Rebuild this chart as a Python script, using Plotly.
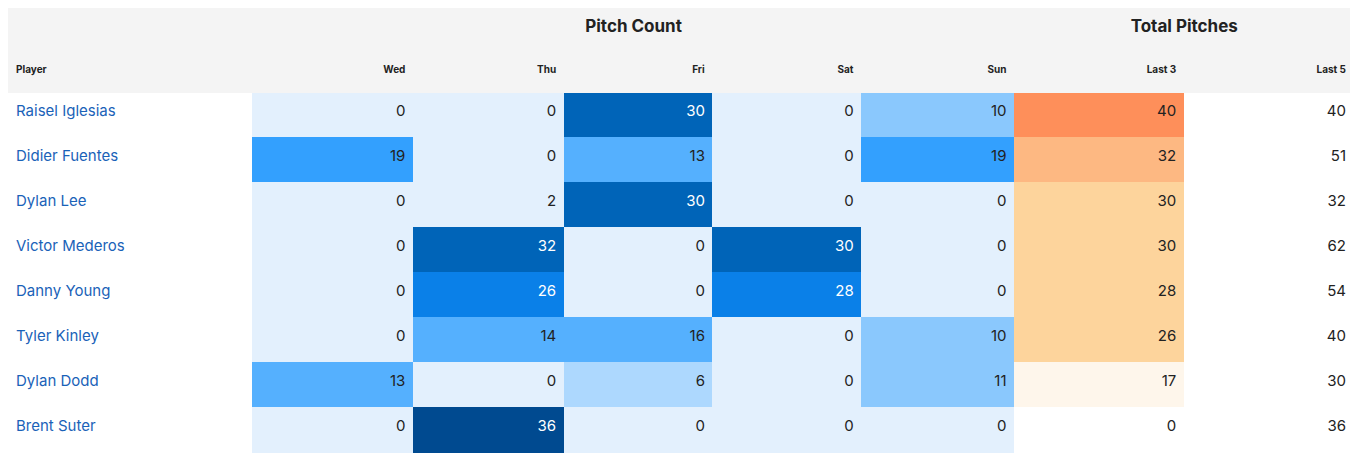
import plotly.graph_objects as go

players = ["Raisel Iglesias", "Didier Fuentes", "Dylan Lee", "Victor Mederos",
           "Danny Young", "Tyler Kinley", "Dylan Dodd", "Brent Suter"]
days = ["Wed", "Thu", "Fri", "Sat", "Sun"]
wed = [0, 19, 0, 0, 0, 0, 13, 0]
thu = [0, 0, 2, 32, 26, 14, 0, 36]
fri = [30, 13, 30, 0, 0, 16, 6, 0]
sat = [0, 0, 0, 30, 28, 0, 0, 0]
sun = [10, 19, 0, 0, 0, 10, 11, 0]
last3 = [40, 32, 30, 30, 28, 26, 17, 0]
last5 = [40, 51, 32, 62, 54, 40, 30, 36]


def blue(v):
    if v >= 36: return "#004a90"
    if v >= 30: return "#0064b8"
    if v >= 26: return "#0a80e8"
    if v >= 19: return "#33a0fe"
    if v >= 13: return "#55b0fe"
    if v >= 10: return "#8ac8fd"
    if v >= 6: return "#add8fe"
    return "#e3f0fd"


def orange(v):
    if v >= 40: return "#fe8f5a"
    if v >= 32: return "#fdb882"
    if v >= 26: return "#fdd49c"
    if v >= 17: return "#fef6eb"
    return "#ffffff"


def txt(v):
    return "white" if v >= 26 else "#222222"


def low(s, size=15):
    # push text down inside the cell: tiny first line, then the real text
    return f"&nbsp;<br><span style='font-size:{size}px'>{s}</span>"


day_cols = [wed, thu, fri, sat, sun]
fills = [["white"] * 8] + [[blue(v) for v in c] for c in day_cols] + \
        [[orange(v) for v in last3], ["white"] * 8]
fcolors = [["#1a62b8"] * 8] + [[txt(v) for v in c] for c in day_cols] + \
          [["#222222"] * 8, ["#222222"] * 8]
values = [[low(p) for p in players]] + [[low(v) for v in c] for c in day_cols + [last3, last5]]
widths = [245, 161, 151, 149, 149, 153, 170, 170]

fig = go.Figure()
fig.add_trace(go.Table(
    domain=dict(x=[0, 1], y=[0.897, 1]),
    columnwidth=[245, 763, 340],
    header=dict(values=["", low("<b>Pitch Count</b>", 17), low("<b>Total Pitches</b>", 17)],
                fill_color="#f4f4f4", line_color="#f4f4f4", height=45,
                align="center", font=dict(family="Inter", size=4, color="#222222")),
    cells=dict(values=[[], [], []], height=1)
))
fig.add_trace(go.Table(
    domain=dict(x=[0, 1], y=[0, 0.897]),
    columnwidth=widths,
    header=dict(values=[f"<b>{h}</b>" for h in ["Player"] + days + ["Last 3", "Last 5"]],
                fill_color="#f4f4f4", line_color="#f4f4f4", height=38,
                align=["left"] + ["right"] * 7,
                font=dict(family="Inter", size=10, color="#222222")),
    cells=dict(values=values, fill_color=fills, line_color=fills, height=45,
               align=["left"] + ["right"] * 7,
               font=dict(family="Inter", size=3, color=fcolors))
))
fig.update_layout(width=1346, height=460, margin=dict(l=0, r=0, t=0, b=8),
                  paper_bgcolor="white")
fig.write_html("out.html")
